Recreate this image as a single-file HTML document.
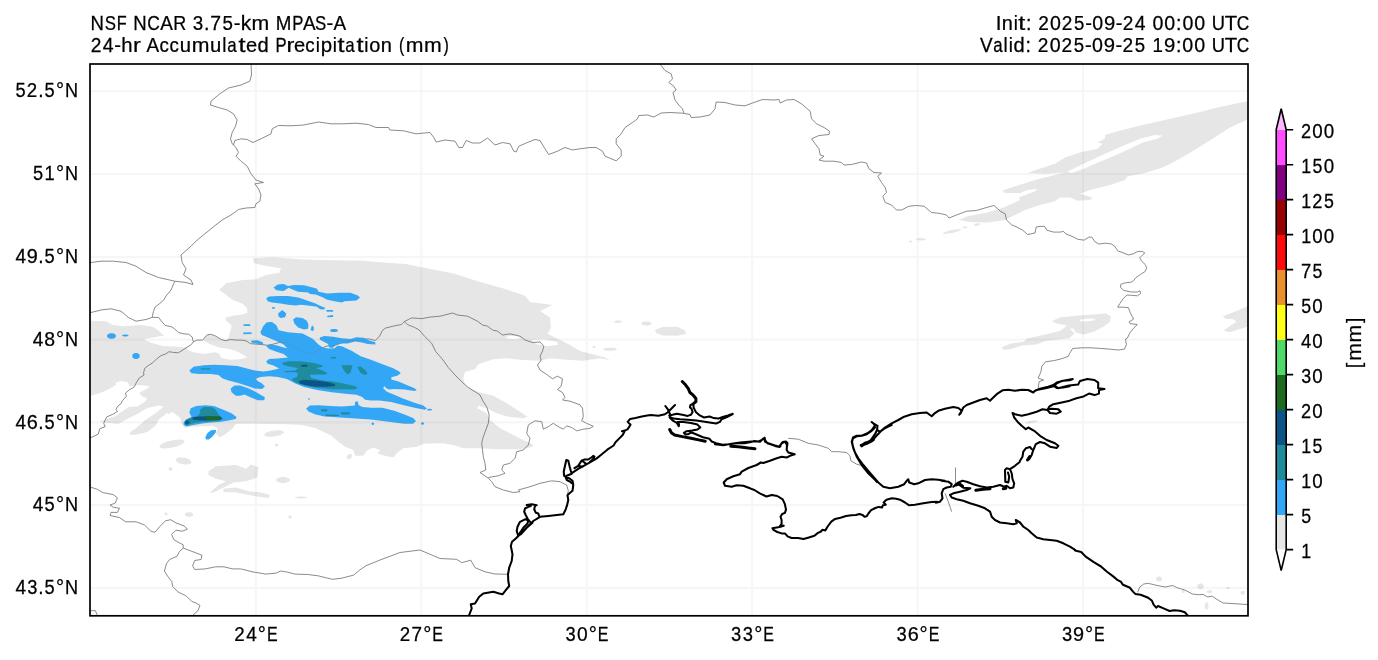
<!DOCTYPE html>
<html><head><meta charset="utf-8"><title>MPAS precipitation</title>
<style>
html,body{margin:0;padding:0;background:#fff;}
body{width:1378px;height:660px;overflow:hidden;}
svg{display:block;will-change:transform;}
text{font-family:"Liberation Sans",sans-serif;font-size:19.87px;fill:#000;stroke:#000;stroke-width:0.25px;}
</style></head><body>
<svg width="1378" height="660" viewBox="0 0 1378 660">
<rect x="0" y="0" width="1378" height="660" fill="#fff"/>
<defs><clipPath id="ax"><rect x="90.0" y="64.0" width="1158.0" height="551.8"/></clipPath></defs>
<g clip-path="url(#ax)">

<path d="M252.7 258.3L272.7 257.3L299.3 259.3L319.3 260.0L362.7 260.7L386.0 262.7L406.0 264.0L419.3 266.7L439.3 270.7L452.7 273.3L479.3 281.7L502.7 288.3L525.0 295.7L530.0 302.0L552.5 305.0L540.0 311.0L550.0 317.5L551.0 327.5L547.5 333.8L560.0 340.0L570.0 345.0L580.0 351.0L605.0 357.5L610.0 360.0L600.0 358.3L583.3 360.8L566.7 359.7L550.0 358.3L540.0 360.8L523.3 360.0L506.7 358.3L493.3 359.2L478.3 364.2L475.0 369.2L465.0 371.7L463.3 378.3L465.0 385.0L471.7 389.2L480.0 392.5L493.3 395.8L506.7 403.3L520.0 411.7L527.5 416.7L523.3 418.3L508.3 416.7L496.7 413.3L486.7 408.3L478.3 405.8L477.5 408.3L486.7 413.3L490.0 420.0L500.0 428.3L513.3 435.0L522.5 439.8L532.5 444.2L532.5 446.7L521.7 449.2L496.7 449.2L480.0 448.3L463.3 448.3L453.3 445.0L443.3 443.3L423.3 443.7L416.7 446.7L403.3 448.3L396.7 453.3L393.3 457.5L385.0 455.8L377.5 453.3L380.0 450.0L373.3 447.5L366.7 450.8L363.3 455.8L355.0 455.8L353.3 450.0L345.0 446.7L338.3 441.7L331.7 435.8L315.7 428.3L302.7 425.0L286.0 424.2L252.7 423.7L236.0 423.7L232.7 428.3L224.3 435.0L219.3 437.5L216.0 433.3L217.7 428.3L212.7 425.8L192.7 426.7L184.3 427.5L181.0 423.3L180.6 418.3L172.7 411.9L167.8 414.4L167.8 412.4L158.9 419.3L155.0 426.2L147.1 432.1L137.2 434.6L130.3 435.1L130.3 432.1L137.2 427.2L145.1 420.3L155.0 413.4L163.8 406.5L158.9 405.5L147.1 408.0L137.2 413.9L127.4 418.8L118.5 423.8L105.7 422.8L99.8 421.8L105.7 419.3L115.6 415.9L123.4 410.5L129.3 406.7L137.2 406.5L145.1 401.6L147.1 398.6L141.2 395.7L139.2 392.7L145.1 389.8L150.0 386.8L145.1 385.6L137.2 384.9L129.3 386.6L129.3 384.9L127.4 381.9L120.5 380.9L115.6 382.7L115.6 385.3L107.7 389.8L100.8 392.7L90.9 395.7L90.7 320.8L106.0 321.3L112.7 325.0L124.3 326.3L141.0 325.0L152.7 326.7L161.0 332.5L158.6 331.4L164.4 335.4L153.9 337.2L144.6 338.9L144.6 340.1L151.6 343.0L163.2 345.9L174.8 346.5L184.1 347.6L188.8 345.9L186.5 348.8L189.9 351.1L195.7 352.8L205.0 354.0L214.3 352.3L219.0 353.4L221.3 358.1L230.6 359.8L239.9 359.2L246.9 357.5L246.9 356.9L238.7 352.3L232.9 349.9L228.3 348.8L219.0 347.6L209.7 344.1L205.0 341.2L203.9 339.5L205.0 336.0L208.5 334.3L214.3 336.0L221.3 339.5L225.9 340.1L228.3 338.3L229.4 333.7L231.8 326.1L229.4 323.2L225.4 320.3L225.9 317.4L232.9 315.7L242.2 314.5L247.4 312.8L246.9 308.1L242.2 303.5L232.9 300.0L219.3 290.0L226.0 283.3L242.7 280.0L256.0 279.3L266.0 275.0L279.3 272.7L281.0 268.3L266.0 266.0L254.3 263.3ZM184.7 441.3L183.8 443.1L180.5 445.1L175.6 446.8L169.9 448.0L164.7 448.4L160.9 448.0L159.3 446.7L160.2 444.9L163.5 442.9L168.4 441.2L174.1 440.0L179.3 439.6L183.1 440.0ZM191.4 462.4L190.3 463.7L188.0 464.4L184.7 464.5L181.2 463.9L178.1 462.7L176.2 461.2L175.6 459.6L176.7 458.3L179.0 457.6L182.3 457.5L185.8 458.1L188.9 459.3L190.8 460.8ZM172.3 469.0L172.1 469.9L171.6 470.6L170.9 470.9L170.1 470.9L169.4 470.6L168.9 469.9L168.7 469.0L168.9 468.1L169.4 467.4L170.1 467.1L170.9 467.1L171.6 467.4L172.1 468.1ZM208.5 471.2L216.0 466.2L236.0 465.0L246.0 468.8L251.0 464.5L258.5 467.5L257.2 477.5L246.0 481.2L233.5 482.5L226.0 486.2L213.5 492.5L209.8 492.5L218.5 485.0L226.0 481.2L216.0 478.8L208.5 475.0ZM223.5 488.8L236.0 487.5L248.5 491.2L261.0 492.5L269.8 495.0L268.5 498.0L256.0 496.2L236.0 492.5L223.5 492.0ZM290.0 480.0L289.3 481.3L287.4 482.3L284.6 482.9L281.4 482.9L278.6 482.3L276.7 481.3L276.0 480.0L276.7 478.7L278.6 477.7L281.4 477.1L284.6 477.1L287.4 477.7L289.3 478.7ZM283.9 432.1L283.1 433.5L280.5 435.0L276.6 436.1L272.2 436.7L268.2 436.7L265.3 436.0L264.1 434.9L264.9 433.5L267.5 432.0L271.4 430.9L275.8 430.3L279.8 430.3L282.7 431.0ZM352.1 455.0L352.3 456.0L352.0 457.1L351.2 458.0L350.0 458.7L348.7 458.9L347.6 458.7L346.9 458.0L346.7 457.0L347.0 455.9L347.8 455.0L349.0 454.3L350.3 454.1L351.4 454.3ZM193.3 514.5L192.9 515.5L191.7 516.3L190.0 516.7L188.0 516.7L186.3 516.3L185.1 515.5L184.7 514.5L185.1 513.5L186.3 512.7L188.0 512.3L190.0 512.3L191.7 512.7L192.9 513.5ZM167.5 514.0L167.4 514.7L166.9 515.2L166.3 515.5L165.7 515.5L165.1 515.2L164.6 514.7L164.5 514.0L164.6 513.3L165.1 512.8L165.7 512.5L166.3 512.5L166.9 512.8L167.4 513.3ZM291.7 517.0L291.5 517.7L291.1 518.3L290.4 518.7L289.6 518.7L288.9 518.3L288.5 517.7L288.3 517.0L288.5 516.3L288.9 515.7L289.6 515.3L290.4 515.3L291.1 515.7L291.5 516.3ZM278.0 445.0L277.9 445.7L277.4 446.2L276.8 446.5L276.2 446.5L275.6 446.2L275.1 445.7L275.0 445.0L275.1 444.3L275.6 443.8L276.2 443.5L276.8 443.5L277.4 443.8L277.9 444.3ZM307.0 497.5L306.4 497.9L304.7 498.3L302.3 498.5L299.7 498.5L297.3 498.3L295.6 497.9L295.0 497.5L295.6 497.1L297.3 496.7L299.7 496.5L302.3 496.5L304.7 496.7L306.4 497.1ZM655.0 330.0L662.5 327.0L677.5 326.8L685.0 330.5L686.2 333.8L677.5 335.8L662.5 335.5L656.2 333.0ZM651.5 323.5L651.0 324.5L649.6 325.2L647.6 325.6L645.4 325.6L643.4 325.2L642.0 324.5L641.5 323.5L642.0 322.5L643.4 321.8L645.4 321.4L647.6 321.4L649.6 321.8L651.0 322.5ZM622.0 321.7L621.6 322.2L620.5 322.6L618.9 322.9L617.1 322.9L615.5 322.6L614.4 322.2L614.0 321.7L614.4 321.2L615.5 320.8L617.1 320.5L618.9 320.5L620.5 320.8L621.6 321.2ZM617.0 349.3L616.3 350.0L614.4 350.5L611.6 350.8L608.4 350.8L605.6 350.5L603.7 350.0L603.0 349.3L603.7 348.6L605.6 348.1L608.4 347.8L611.6 347.8L614.4 348.1L616.3 348.6ZM595.5 347.0L595.4 347.5L594.9 347.9L594.3 348.2L593.7 348.2L593.1 347.9L592.6 347.5L592.5 347.0L592.6 346.5L593.1 346.1L593.7 345.8L594.3 345.8L594.9 346.1L595.4 346.5ZM1248.8 101.2L1248.8 118.8L1230.0 127.5L1212.5 138.8L1192.5 151.2L1177.5 160.0L1162.5 167.5L1142.5 173.8L1127.5 176.2L1125.0 180.0L1110.0 185.0L1090.0 190.0L1080.0 193.8L1092.5 197.5L1090.0 200.0L1077.5 200.8L1070.0 197.5L1060.0 197.5L1055.0 201.2L1040.0 205.0L1025.0 210.0L1012.5 216.2L1005.0 220.0L987.5 222.5L970.0 222.0L958.8 220.0L967.5 216.2L987.5 212.5L1005.0 207.0L1020.0 200.0L1018.8 197.5L1035.0 191.2L1037.5 188.8L1027.5 190.0L1020.0 193.0L1005.0 193.0L1002.5 190.5L1015.0 186.2L1035.0 180.0L1055.0 175.0L1065.0 172.5L1045.0 173.8L1027.5 173.0L1037.5 169.5L1055.0 163.8L1065.0 157.5L1080.0 152.5L1097.5 148.8L1102.5 143.8L1097.5 142.5L1105.0 138.8L1105.0 135.0L1117.5 131.2L1142.5 125.0L1165.0 120.0L1192.5 113.8L1217.5 107.5L1235.0 103.8ZM961.3 229.5L960.5 230.3L958.0 231.3L954.4 232.4L950.2 233.3L946.4 233.8L943.8 233.9L942.7 233.5L943.5 232.7L946.0 231.7L949.6 230.6L953.8 229.7L957.6 229.2L960.2 229.1ZM926.0 239.3L925.5 239.8L924.1 240.2L922.1 240.5L919.9 240.5L917.9 240.2L916.5 239.8L916.0 239.3L916.5 238.8L917.9 238.4L919.9 238.1L922.1 238.1L924.1 238.4L925.5 238.8ZM912.3 241.5L912.1 241.9L911.6 242.3L910.9 242.5L910.1 242.5L909.4 242.3L908.9 241.9L908.7 241.5L908.9 241.1L909.4 240.7L910.1 240.5L910.9 240.5L911.6 240.7L912.1 241.1ZM967.5 227.3L967.3 227.7L966.6 228.0L965.6 228.2L964.4 228.2L963.4 228.0L962.7 227.7L962.5 227.3L962.7 226.9L963.4 226.6L964.4 226.4L965.6 226.4L966.6 226.6L967.3 226.9ZM980.1 223.8L979.9 224.4L979.1 224.9L977.9 225.4L976.5 225.7L975.2 225.8L974.3 225.6L973.9 225.2L974.1 224.6L974.9 224.1L976.1 223.6L977.5 223.3L978.8 223.2L979.7 223.4ZM1001.8 347.3L1010.9 343.6L1023.6 341.8L1027.3 338.2L1036.4 336.4L1045.5 334.5L1060.0 330.9L1067.3 325.5L1056.4 323.6L1051.8 320.9L1060.0 317.6L1078.2 315.5L1094.5 314.5L1105.5 313.3L1110.9 316.4L1110.0 321.8L1103.6 326.4L1094.5 331.5L1083.6 334.5L1076.4 332.7L1072.7 328.2L1070.0 329.1L1074.5 333.6L1069.1 338.2L1054.5 340.0L1045.5 340.9L1036.4 344.5L1021.8 345.5L1010.9 349.1L1003.6 350.0ZM1222.7 316.4L1234.5 311.8L1248.2 306.0L1248.2 326.4L1240.0 329.1L1229.1 332.2L1223.6 330.4L1229.1 326.4L1236.4 321.8L1232.7 319.1L1225.5 318.7ZM1162.0 579.0L1161.7 580.2L1160.9 581.1L1159.7 581.6L1158.3 581.6L1157.1 581.1L1156.3 580.2L1156.0 579.0L1156.3 577.8L1157.1 576.9L1158.3 576.4L1159.7 576.4L1160.9 576.9L1161.7 577.8ZM1203.9 586.3L1203.6 587.6L1202.6 588.6L1201.3 589.2L1199.7 589.2L1198.4 588.6L1197.4 587.6L1197.1 586.3L1197.4 585.0L1198.4 584.0L1199.7 583.4L1201.3 583.4L1202.6 584.0L1203.6 585.0ZM1212.2 591.6L1211.9 592.3L1211.2 592.8L1210.1 593.1L1208.9 593.1L1207.8 592.8L1207.1 592.3L1206.8 591.6L1207.1 590.9L1207.8 590.4L1208.9 590.1L1210.1 590.1L1211.2 590.4L1211.9 590.9ZM1208.5 606.0L1208.3 607.6L1207.8 609.0L1207.0 609.7L1206.2 609.7L1205.4 609.0L1204.9 607.6L1204.7 606.0L1204.9 604.4L1205.4 603.0L1206.2 602.3L1207.0 602.3L1207.8 603.0L1208.3 604.4ZM1244.7 591.6L1244.9 592.5L1244.7 593.4L1244.1 594.1L1243.2 594.7L1242.2 594.8L1241.3 594.6L1240.7 593.9L1240.5 593.1L1240.7 592.2L1241.3 591.5L1242.2 590.9L1243.2 590.8L1244.1 591.0ZM1184.8 591.3L1184.7 592.1L1184.2 592.8L1183.6 593.2L1183.0 593.2L1182.4 592.8L1181.9 592.1L1181.8 591.3L1181.9 590.5L1182.4 589.8L1183.0 589.4L1183.6 589.4L1184.2 589.8L1184.7 590.5ZM1229.8 588.2L1229.6 588.7L1229.1 589.1L1228.3 589.3L1227.5 589.3L1226.7 589.1L1226.2 588.7L1226.0 588.2L1226.2 587.7L1226.7 587.3L1227.5 587.1L1228.3 587.1L1229.1 587.3L1229.6 587.7ZM1037.9 420.9L1037.4 421.5L1035.7 422.2L1033.1 422.9L1030.3 423.4L1027.7 423.6L1025.8 423.5L1025.1 423.1L1025.6 422.5L1027.3 421.8L1029.9 421.1L1032.7 420.6L1035.3 420.4L1037.2 420.5Z" fill="#e6e6e6" stroke="none"/>
<path d="M520.0 337.5L519.3 338.2L517.4 338.8L514.6 339.1L511.4 339.1L508.6 338.8L506.7 338.2L506.0 337.5L506.7 336.8L508.6 336.2L511.4 335.9L514.6 335.9L517.4 336.2L519.3 336.8ZM531.7 340.3L543.3 339.2L556.7 341.7L558.3 344.7L546.7 346.2L536.7 344.2ZM1067.0 171.8L1085.0 163.0L1105.0 153.8L1125.0 145.0L1140.0 138.8L1155.0 135.0L1162.5 135.5L1157.5 138.8L1142.5 142.5L1130.0 148.8L1115.0 155.5L1097.5 162.8L1085.0 168.2L1072.0 173.0ZM1095.3 319.6L1094.5 320.2L1092.3 320.8L1089.1 321.3L1085.6 321.5L1082.4 321.4L1080.1 321.0L1079.3 320.4L1080.1 319.8L1082.3 319.2L1085.5 318.7L1089.0 318.5L1092.2 318.6L1094.5 319.0Z" fill="#fff" stroke="none"/>
<path d="M251.0 62.5L251.5 75.0L249.8 81.2L241.0 85.0L228.5 88.0L219.8 93.8L211.0 101.2L210.5 105.0L218.5 107.5L227.2 110.0L233.5 113.8L237.2 120.0L235.5 126.2L232.2 132.5L230.5 138.8L232.2 143.8L236.0 147.5L238.5 152.5L236.0 156.2L241.0 161.2L247.2 166.2L251.0 173.8L256.0 180.0L263.5 182.5L254.8 183.8L258.5 188.8L261.0 195.0L259.8 201.2L256.0 203.8L254.8 207.5L246.0 208.0L238.5 209.5L231.0 215.0L222.2 220.0L216.0 224.8L197.2 240.0L191.0 246.2L181.0 255.0L182.2 262.5L186.0 268.8L183.5 275.0L191.0 280.0L193.0 284.5L186.0 282.5L174.8 281.2M233.5 145.0L234.8 140.5L241.0 138.8L247.2 139.5L253.0 142.5L261.0 138.8L271.0 133.8L272.2 128.8L278.5 125.5L291.0 125.8L303.5 125.0L318.5 122.0L331.0 123.8L343.5 123.8L356.0 123.2L368.5 124.5L376.0 127.5L388.5 127.5L389.8 130.0L403.5 130.8L416.0 133.8L430.0 132.5L430.0 132.5L433.8 137.5L436.2 142.0L445.0 140.0L455.0 141.2L458.8 147.5L462.5 147.5L466.2 140.5L472.5 143.0L480.0 143.0L487.5 138.0L495.0 145.0L502.5 142.5L510.0 143.8L513.8 151.2L516.2 152.0L518.8 146.2L526.2 143.0L535.0 139.5L540.0 140.5L545.0 148.8L548.8 154.5L557.5 151.2L565.0 147.5L572.5 150.0L580.0 148.8L590.0 147.5L596.2 147.5L602.5 151.2L605.0 156.2L616.2 160.8L621.2 156.2L621.2 150.0L616.2 143.8L616.2 138.8L621.2 133.8L625.0 127.5L632.5 122.5L637.5 118.8L638.8 115.5L647.5 115.0L653.8 117.0L661.2 113.0L670.0 112.5L682.5 113.2L690.0 114.5L691.2 117.5L700.0 117.0L710.0 115.0L715.0 108.8L716.2 102.0L725.0 102.5L735.0 105.0L745.0 105.8L752.5 103.0L762.5 99.5L774.0 100.0L774.0 100.0L779.0 99.5L780.2 103.0L786.5 100.0L794.0 99.5L801.5 103.8L810.2 111.2L811.5 118.8L816.5 123.8L824.0 127.5L829.5 131.2L829.0 134.5L819.0 135.5L811.5 138.8L815.2 143.8L819.0 148.8L820.2 155.0L824.0 156.2L819.0 160.0L824.0 161.2L834.0 161.2L841.5 162.5L844.0 165.0L851.5 164.5L861.5 162.0L866.5 163.0L869.0 168.8L874.0 172.5L881.5 173.0L877.8 176.2L881.5 182.5L885.2 187.5L886.5 192.5L882.8 196.2L885.2 202.5L891.5 205.0L896.5 210.0L901.5 210.0L909.0 206.2L916.5 205.5L924.0 206.2L931.5 212.5L936.5 213.0L941.5 213.8L946.5 215.0L949.0 218.0L956.5 215.0L966.5 211.2L976.5 210.5L986.5 207.5L994.0 205.5L997.8 208.8L1000.2 211.2L1005.2 213.8L1006.5 220.0L1011.5 224.8L1015.0 226.2L1022.5 230.0L1027.5 234.5L1035.0 233.0L1036.2 227.0L1040.0 226.5M1040.0 226.4L1044.6 226.4L1046.9 230.2L1053.7 232.1L1059.8 232.1L1063.6 231.5L1065.9 234.0L1072.0 236.3L1078.1 239.4L1084.2 240.1L1088.8 237.1L1091.8 237.1L1094.9 241.7L1098.7 244.0L1105.5 243.2L1111.6 244.0L1114.7 246.2L1117.7 250.8L1123.8 253.1L1128.4 254.9L1133.0 253.9L1137.5 251.6L1142.1 251.3L1144.8 253.1L1142.1 255.4L1139.8 257.7L1141.3 260.7L1145.2 264.5L1146.7 267.6L1145.2 271.4L1140.6 274.4L1136.0 277.5L1133.7 280.5L1131.4 282.1L1125.3 282.8L1120.8 284.3L1120.5 287.4L1123.8 290.4L1131.4 292.0L1137.5 292.0L1139.8 290.7L1140.6 293.5L1137.5 295.8L1131.4 295.3L1126.9 295.0L1123.1 298.8L1120.0 303.4L1117.7 307.2L1123.8 307.2L1128.4 307.7L1129.9 311.8L1131.4 315.0L1133.6 319.1L1129.1 321.8L1130.0 323.6L1137.3 324.5L1133.6 328.2L1130.0 332.7L1127.3 338.2L1125.5 339.1L1126.4 344.5L1124.5 349.1L1118.2 350.0L1109.1 349.1L1101.8 348.5L1090.9 347.8L1081.8 347.8L1072.7 348.5L1070.0 352.7L1068.2 356.4L1061.8 358.7L1054.5 360.5L1045.5 361.8L1041.8 366.4L1040.9 371.8L1038.2 378.2L1043.6 380.0L1039.1 381.8L1038.2 388.2M658.8 62.5L665.0 70.5L671.2 73.8L672.5 78.8L668.8 82.5L673.8 86.2L676.2 90.0L673.0 92.5L675.0 100.0L678.8 105.0L682.5 108.8L683.8 113.0M88.0 263.0L91.0 262.5L101.0 261.2L113.5 261.2L126.0 262.5L136.0 266.2L146.0 272.5L158.5 277.5L174.8 281.2M174.8 281.2L171.0 290.0L166.0 296.0L163.8 300.0L159.7 303.5L155.1 307.0L153.4 311.6L152.2 317.4M88.0 313.0L91.0 312.5L101.0 310.0L111.0 308.8L121.0 311.2L128.5 317.5L136.0 321.2L146.0 319.5L152.2 317.4M152.2 317.4L158.6 317.4L162.1 322.1L165.6 325.6L171.4 326.7L174.8 329.0L178.3 332.5L183.0 333.7L188.8 334.3L192.3 337.2L192.8 340.1L193.4 341.8M193.4 341.8L196.9 340.1L202.7 340.1L205.0 337.2L207.4 334.8L210.8 334.3L215.5 336.0L221.3 339.5L225.9 340.7L230.6 339.5L236.4 340.1L242.2 340.1L246.9 341.2L250.3 343.6L256.1 344.1L263.1 344.7L267.8 345.3L273.6 344.1L279.4 342.4L286.0 342.5L293.5 346.2L303.5 352.5L311.0 353.8L318.5 350.0L326.0 346.2L336.0 345.0L346.0 341.2L358.5 340.0L368.5 338.8L375.3 340.5L379.6 336.1L382.5 330.3L385.5 328.1L394.2 325.9L401.5 324.5L404.4 321.5L408.7 319.4L411.6 317.9L421.8 318.6L429.1 317.2L440.0 316.2L452.5 313.0L457.5 315.0L467.5 316.2L477.5 321.2L482.5 325.0L487.5 326.2L492.5 330.0L497.5 331.2L502.5 335.0L510.0 333.8L520.0 336.2L525.0 340.0L532.5 342.5L540.0 342.0L543.8 346.2L542.5 351.2L540.0 356.2L541.2 360.0L537.5 365.0L540.0 370.0L547.5 375.0L552.5 378.8L557.5 376.2L562.5 378.8L561.2 386.2L557.5 389.5L562.5 392.5L565.0 397.5L562.5 400.0L570.0 401.2L580.0 404.8L582.5 408.3L583.3 416.7L581.7 420.8L586.7 423.3L593.3 426.3L590.0 428.3L583.3 429.2L576.7 430.8L571.7 427.5L566.7 425.8L563.3 429.2L558.3 426.7L553.3 423.3L548.3 426.7L543.3 429.2L541.7 421.7L535.0 420.8L528.3 425.0L526.7 433.3L530.0 438.3L528.3 445.0L523.3 450.0L516.7 451.7L515.0 458.3L510.0 463.3L503.3 465.0L501.7 470.0L505.0 473.3L498.3 475.8L488.3 477.5M193.4 341.8L191.1 344.7L186.5 347.6L183.0 349.9L178.3 352.8L172.5 352.3L169.0 351.7L165.6 354.0L160.9 355.7L156.3 359.2L152.8 362.7L148.1 365.6L144.6 368.5L143.5 373.2L144.1 375.0L139.2 378.0L136.2 382.9L134.3 386.8L129.3 389.8L125.4 393.2L126.4 396.2L122.5 400.6L121.0 403.6L117.5 406.5L116.0 409.5L117.5 411.5L112.6 414.4L106.7 416.9L103.7 423.3L105.2 426.7L99.8 428.7L98.3 434.1L88.0 439.0M404.4 321.5L407.3 324.5L414.5 327.4L419.2 330.0L425.0 336.7L431.7 343.3L435.8 351.7L441.7 358.3L448.3 367.5L455.0 375.0L461.7 381.7L468.3 387.5L475.0 391.7L480.0 395.0L483.3 401.7L486.7 406.7L489.2 415.0L488.3 423.3L485.8 430.0L483.3 436.7L481.7 443.3L482.5 450.0L483.3 456.7L485.0 463.3L485.8 470.0L480.0 472.5L485.0 475.8L488.3 478.3L491.7 481.7L495.0 486.7L503.3 490.0L513.3 492.5L520.0 491.7L518.3 490.0L530.0 486.7L540.0 483.3L551.7 480.8L560.0 481.7L566.7 485.0L568.3 490.8L567.5 494.2M87.0 485.9L91.2 487.3L97.5 489.4L102.7 492.5L113.2 494.6L117.4 497.8L115.3 503.0L110.0 505.1L113.2 507.2L119.5 508.2L117.4 512.4L111.1 512.4L110.0 515.5L119.5 517.6L125.7 521.8L136.2 521.8L144.6 525.0L150.8 531.2L155.0 532.3L159.2 527.1L165.5 520.8L170.7 519.7L175.9 522.9L184.3 526.0L187.4 529.1L182.2 531.2L175.9 530.2L171.7 534.4L173.8 539.6L179.1 542.7L183.2 544.8L183.2 548.0L188.5 550.1L196.8 553.2L202.1 555.3L201.0 559.5L194.7 560.5L192.6 565.7L194.7 569.5L205.2 568.9L215.7 566.8L224.0 566.8L232.4 568.9L240.7 568.9L253.3 572.0L265.8 574.1L276.3 573.1L280.5 571.0L286.8 572.0L295.1 574.1L307.7 574.5L318.1 575.8L326.5 577.9L332.8 579.3L341.1 578.3L353.7 575.1L359.9 569.9L366.0 565.7L380.0 560.0L400.0 552.5L420.0 550.0L440.0 558.5L456.7 559.3L461.7 562.7L470.8 560.2L475.0 567.7L485.0 571.8L495.0 574.0L507.5 574.3M183.2 548.0L179.1 552.1L177.0 556.3L169.6 559.5L166.5 563.6L164.4 571.0L167.6 576.2L171.7 581.4L172.8 586.6L178.0 591.9L186.4 596.1L191.6 601.3L196.8 603.4L200.0 605.5L197.9 610.7L192.6 615.5M87.0 610.7L95.4 610.7L97.5 615.5M788.3 438.3L798.3 439.2L808.3 443.3L818.3 445.0L828.3 448.3L831.7 451.7L838.3 451.7L846.7 452.5L850.0 455.8L850.8 460.8L856.7 464.2L860.8 465.3M955.5 467.5L955.5 483.3M945.0 493.3L948.3 501.7L951.7 511.7M1137.6 592.4L1139.8 587.0L1143.7 584.0L1148.2 583.3L1155.9 585.2L1165.0 587.0L1172.6 585.5L1177.2 587.8L1184.8 590.0L1192.4 594.0L1198.5 594.7L1203.0 594.4L1207.7 597.0L1212.3 596.2L1216.8 599.3L1223.0 603.0L1232.0 603.5L1248.0 604.6" fill="none" stroke="#6a6a6a" stroke-width="0.78" stroke-linejoin="round"/>
<defs><clipPath id="bl"><path d="M273.5 287.4L277.8 284.5L283.6 284.0L288.0 285.9L293.8 284.9L304.0 285.2L312.7 287.4L317.1 288.8L318.5 291.7L327.3 293.6L338.9 292.7L350.5 292.7L357.8 295.4L360.0 297.5L356.4 300.5L344.7 301.2L341.8 302.6L334.5 301.2L327.3 299.7L321.5 296.8L315.6 294.6L309.8 293.9L308.4 292.5L298.2 291.7L292.4 289.5L288.7 287.8L283.6 291.0L276.4 290.3ZM266.2 298.3L269.1 296.5L277.8 296.1L288.0 296.1L298.2 297.5L306.9 300.5L315.6 303.4L319.3 305.5L325.1 307.7L324.4 309.6L320.0 309.2L317.1 306.7L309.8 305.8L301.1 304.8L295.3 305.5L288.0 304.8L280.7 303.4L272.0 302.6L267.6 301.2ZM326.5 309.9L333.1 309.9L333.1 311.7L326.5 311.7ZM327.3 315.7L333.1 315.0L333.1 316.9L327.3 317.2ZM272.0 307.0L274.9 307.3L274.9 308.7L272.3 308.7ZM278.1 313.5L282.2 309.9L286.3 313.5L285.1 317.2L280.7 317.9L278.5 316.5ZM293.1 319.4L296.0 317.2L302.5 317.9L306.9 320.8L308.4 324.5L308.1 328.8L304.0 329.5L298.2 327.4L294.5 323.7ZM310.5 330.3L312.0 325.2L313.9 327.4L313.5 331.0ZM338.0 330.5L337.6 331.2L336.5 331.7L334.9 332.0L333.1 332.0L331.5 331.7L330.4 331.2L330.0 330.5L330.4 329.8L331.5 329.3L333.1 329.0L334.9 329.0L336.5 329.3L337.6 329.8ZM319.7 337.5L324.4 336.1L333.1 336.8L341.8 338.3L350.5 339.0L356.4 337.3L363.6 337.8L369.5 340.5L375.3 342.2L375.3 344.5L368.0 344.1L360.7 342.2L354.9 341.6L347.6 343.4L340.4 343.4L336.0 344.8L333.1 347.7L329.5 347.7L328.0 344.1L322.9 341.2L320.0 339.7ZM243.6 324.2L250.2 324.2L250.2 325.9L243.6 325.9ZM242.9 332.5L251.6 332.2L251.6 334.1L243.6 334.3ZM250.9 340.7L257.5 340.2L263.3 342.6L262.5 344.5L256.0 343.4L251.6 342.6ZM263.3 325.9L266.9 322.3L272.0 321.9L276.4 325.2L278.5 330.3L288.0 332.2L302.5 333.6L312.7 338.7L318.5 344.5L322.9 347.5L328.7 348.6L334.5 348.2L337.5 345.7L341.8 346.3L352.0 351.1L360.7 356.2L370.9 359.8L382.5 364.2L392.7 368.1L399.3 371.5L400.7 373.6L397.1 375.8L391.3 377.3L391.3 379.5L398.5 381.6L407.3 385.3L414.5 388.2L416.7 389.9L414.5 391.1L404.4 389.6L394.2 388.9L388.4 389.6L385.5 387.5L384.0 386.0L383.3 388.2L386.9 391.8L394.2 394.7L402.9 398.4L414.5 402.7L423.3 405.6L426.9 408.5L424.7 409.7L414.5 407.8L402.9 404.9L391.3 402.0L379.6 400.5L370.9 400.5L365.1 399.8L362.2 396.9L356.4 394.7L347.6 394.0L331.8 392.2L317.3 390.0L304.2 387.1L295.5 383.5L286.7 379.1L278.0 376.9L269.3 376.2L260.5 376.9L256.2 378.4L256.9 380.5L262.0 383.5L264.9 386.4L262.0 389.0L254.7 388.5L246.0 385.6L237.3 382.7L228.5 380.5L222.7 378.4L218.4 375.0L211.1 374.0L199.5 374.0L191.5 373.3L189.3 370.4L193.6 366.7L203.8 365.3L214.0 364.8L225.6 365.3L237.3 366.0L246.0 368.2L254.7 370.4L263.5 371.5L270.7 370.4L279.3 368.5L273.5 365.6L267.6 363.7L266.2 361.3L269.1 359.1L277.8 358.4L288.0 357.6L283.6 354.0L276.4 351.8L269.1 348.9L266.2 346.0L269.1 344.5L276.4 345.3L283.6 347.5L287.3 348.2L283.6 344.5L276.4 340.9L269.1 338.0L261.8 335.1L260.4 332.2ZM306.2 408.5L309.8 405.6L318.5 405.3L330.2 405.9L341.8 406.4L354.9 405.6L354.9 402.0L357.8 401.3L358.5 404.9L362.2 407.1L370.9 407.8L382.5 407.8L394.2 410.7L404.4 414.4L413.1 418.0L416.0 420.9L413.1 423.8L404.4 423.8L394.2 422.4L382.5 420.9L370.9 419.5L359.3 418.7L347.6 418.0L336.0 417.3L324.4 416.5L315.6 414.4L308.4 411.5ZM230.7 388.5L234.4 385.6L240.2 385.6L248.9 388.5L257.6 392.9L264.9 397.3L264.2 400.2L257.6 400.2L250.4 397.3L244.5 394.4L240.2 395.8L235.8 395.8L231.5 392.2ZM183.5 422.7L185.6 419.8L191.5 416.9L189.3 412.5L190.7 408.2L196.5 406.0L205.3 405.3L214.0 406.0L222.7 409.6L231.5 413.3L236.5 416.9L235.8 419.1L228.5 420.5L219.8 422.0L211.1 422.4L202.4 423.5L193.6 424.9L186.4 426.4L183.7 424.9ZM205.3 437.3L207.5 432.9L211.1 430.3L216.2 430.0L215.5 432.9L212.5 436.5L208.9 439.5L206.0 439.5ZM116.0 336.0L115.6 337.2L114.3 338.2L112.5 338.7L110.5 338.7L108.7 338.2L107.4 337.2L107.0 336.0L107.4 334.8L108.7 333.8L110.5 333.3L112.5 333.3L114.3 333.8L115.6 334.8ZM128.5 335.5L128.2 335.9L127.3 336.3L126.0 336.5L124.6 336.5L123.3 336.3L122.4 335.9L122.1 335.5L122.4 335.1L123.3 334.7L124.6 334.5L126.0 334.5L127.3 334.7L128.2 335.1ZM139.8 356.0L139.4 357.4L138.4 358.5L136.8 359.1L135.2 359.1L133.6 358.5L132.6 357.4L132.2 356.0L132.6 354.6L133.6 353.5L135.2 352.9L136.8 352.9L138.4 353.5L139.4 354.6ZM432.1 409.7L431.8 410.1L431.1 410.4L430.1 410.6L428.9 410.6L427.9 410.4L427.2 410.1L426.9 409.7L427.2 409.3L427.9 409.0L428.9 408.8L430.1 408.8L431.1 409.0L431.8 409.3ZM374.1 423.8L374.0 424.4L373.6 424.8L373.1 425.1L372.5 425.1L372.0 424.8L371.6 424.4L371.5 423.8L371.6 423.2L372.0 422.8L372.5 422.5L373.1 422.5L373.6 422.8L374.0 423.2ZM424.0 423.5L423.9 424.1L423.4 424.5L422.8 424.8L422.2 424.8L421.6 424.5L421.1 424.1L421.0 423.5L421.1 422.9L421.6 422.5L422.2 422.2L422.8 422.2L423.4 422.5L423.9 422.9ZM310.0 399.0L309.9 399.3L309.6 399.6L309.2 399.8L308.8 399.8L308.4 399.6L308.1 399.3L308.0 399.0L308.1 398.7L308.4 398.4L308.8 398.2L309.2 398.2L309.6 398.4L309.9 398.7ZM336.0 330.6L335.8 331.0L335.1 331.3L334.1 331.5L332.9 331.5L331.9 331.3L331.2 331.0L331.0 330.6L331.2 330.2L331.9 329.9L332.9 329.7L334.1 329.7L335.1 329.9L335.8 330.2Z"/></clipPath></defs>
<path d="M273.5 287.4L277.8 284.5L283.6 284.0L288.0 285.9L293.8 284.9L304.0 285.2L312.7 287.4L317.1 288.8L318.5 291.7L327.3 293.6L338.9 292.7L350.5 292.7L357.8 295.4L360.0 297.5L356.4 300.5L344.7 301.2L341.8 302.6L334.5 301.2L327.3 299.7L321.5 296.8L315.6 294.6L309.8 293.9L308.4 292.5L298.2 291.7L292.4 289.5L288.7 287.8L283.6 291.0L276.4 290.3ZM266.2 298.3L269.1 296.5L277.8 296.1L288.0 296.1L298.2 297.5L306.9 300.5L315.6 303.4L319.3 305.5L325.1 307.7L324.4 309.6L320.0 309.2L317.1 306.7L309.8 305.8L301.1 304.8L295.3 305.5L288.0 304.8L280.7 303.4L272.0 302.6L267.6 301.2ZM326.5 309.9L333.1 309.9L333.1 311.7L326.5 311.7ZM327.3 315.7L333.1 315.0L333.1 316.9L327.3 317.2ZM272.0 307.0L274.9 307.3L274.9 308.7L272.3 308.7ZM278.1 313.5L282.2 309.9L286.3 313.5L285.1 317.2L280.7 317.9L278.5 316.5ZM293.1 319.4L296.0 317.2L302.5 317.9L306.9 320.8L308.4 324.5L308.1 328.8L304.0 329.5L298.2 327.4L294.5 323.7ZM310.5 330.3L312.0 325.2L313.9 327.4L313.5 331.0ZM338.0 330.5L337.6 331.2L336.5 331.7L334.9 332.0L333.1 332.0L331.5 331.7L330.4 331.2L330.0 330.5L330.4 329.8L331.5 329.3L333.1 329.0L334.9 329.0L336.5 329.3L337.6 329.8ZM319.7 337.5L324.4 336.1L333.1 336.8L341.8 338.3L350.5 339.0L356.4 337.3L363.6 337.8L369.5 340.5L375.3 342.2L375.3 344.5L368.0 344.1L360.7 342.2L354.9 341.6L347.6 343.4L340.4 343.4L336.0 344.8L333.1 347.7L329.5 347.7L328.0 344.1L322.9 341.2L320.0 339.7ZM243.6 324.2L250.2 324.2L250.2 325.9L243.6 325.9ZM242.9 332.5L251.6 332.2L251.6 334.1L243.6 334.3ZM250.9 340.7L257.5 340.2L263.3 342.6L262.5 344.5L256.0 343.4L251.6 342.6ZM263.3 325.9L266.9 322.3L272.0 321.9L276.4 325.2L278.5 330.3L288.0 332.2L302.5 333.6L312.7 338.7L318.5 344.5L322.9 347.5L328.7 348.6L334.5 348.2L337.5 345.7L341.8 346.3L352.0 351.1L360.7 356.2L370.9 359.8L382.5 364.2L392.7 368.1L399.3 371.5L400.7 373.6L397.1 375.8L391.3 377.3L391.3 379.5L398.5 381.6L407.3 385.3L414.5 388.2L416.7 389.9L414.5 391.1L404.4 389.6L394.2 388.9L388.4 389.6L385.5 387.5L384.0 386.0L383.3 388.2L386.9 391.8L394.2 394.7L402.9 398.4L414.5 402.7L423.3 405.6L426.9 408.5L424.7 409.7L414.5 407.8L402.9 404.9L391.3 402.0L379.6 400.5L370.9 400.5L365.1 399.8L362.2 396.9L356.4 394.7L347.6 394.0L331.8 392.2L317.3 390.0L304.2 387.1L295.5 383.5L286.7 379.1L278.0 376.9L269.3 376.2L260.5 376.9L256.2 378.4L256.9 380.5L262.0 383.5L264.9 386.4L262.0 389.0L254.7 388.5L246.0 385.6L237.3 382.7L228.5 380.5L222.7 378.4L218.4 375.0L211.1 374.0L199.5 374.0L191.5 373.3L189.3 370.4L193.6 366.7L203.8 365.3L214.0 364.8L225.6 365.3L237.3 366.0L246.0 368.2L254.7 370.4L263.5 371.5L270.7 370.4L279.3 368.5L273.5 365.6L267.6 363.7L266.2 361.3L269.1 359.1L277.8 358.4L288.0 357.6L283.6 354.0L276.4 351.8L269.1 348.9L266.2 346.0L269.1 344.5L276.4 345.3L283.6 347.5L287.3 348.2L283.6 344.5L276.4 340.9L269.1 338.0L261.8 335.1L260.4 332.2ZM306.2 408.5L309.8 405.6L318.5 405.3L330.2 405.9L341.8 406.4L354.9 405.6L354.9 402.0L357.8 401.3L358.5 404.9L362.2 407.1L370.9 407.8L382.5 407.8L394.2 410.7L404.4 414.4L413.1 418.0L416.0 420.9L413.1 423.8L404.4 423.8L394.2 422.4L382.5 420.9L370.9 419.5L359.3 418.7L347.6 418.0L336.0 417.3L324.4 416.5L315.6 414.4L308.4 411.5ZM230.7 388.5L234.4 385.6L240.2 385.6L248.9 388.5L257.6 392.9L264.9 397.3L264.2 400.2L257.6 400.2L250.4 397.3L244.5 394.4L240.2 395.8L235.8 395.8L231.5 392.2ZM183.5 422.7L185.6 419.8L191.5 416.9L189.3 412.5L190.7 408.2L196.5 406.0L205.3 405.3L214.0 406.0L222.7 409.6L231.5 413.3L236.5 416.9L235.8 419.1L228.5 420.5L219.8 422.0L211.1 422.4L202.4 423.5L193.6 424.9L186.4 426.4L183.7 424.9ZM205.3 437.3L207.5 432.9L211.1 430.3L216.2 430.0L215.5 432.9L212.5 436.5L208.9 439.5L206.0 439.5ZM116.0 336.0L115.6 337.2L114.3 338.2L112.5 338.7L110.5 338.7L108.7 338.2L107.4 337.2L107.0 336.0L107.4 334.8L108.7 333.8L110.5 333.3L112.5 333.3L114.3 333.8L115.6 334.8ZM128.5 335.5L128.2 335.9L127.3 336.3L126.0 336.5L124.6 336.5L123.3 336.3L122.4 335.9L122.1 335.5L122.4 335.1L123.3 334.7L124.6 334.5L126.0 334.5L127.3 334.7L128.2 335.1ZM139.8 356.0L139.4 357.4L138.4 358.5L136.8 359.1L135.2 359.1L133.6 358.5L132.6 357.4L132.2 356.0L132.6 354.6L133.6 353.5L135.2 352.9L136.8 352.9L138.4 353.5L139.4 354.6ZM432.1 409.7L431.8 410.1L431.1 410.4L430.1 410.6L428.9 410.6L427.9 410.4L427.2 410.1L426.9 409.7L427.2 409.3L427.9 409.0L428.9 408.8L430.1 408.8L431.1 409.0L431.8 409.3ZM374.1 423.8L374.0 424.4L373.6 424.8L373.1 425.1L372.5 425.1L372.0 424.8L371.6 424.4L371.5 423.8L371.6 423.2L372.0 422.8L372.5 422.5L373.1 422.5L373.6 422.8L374.0 423.2ZM424.0 423.5L423.9 424.1L423.4 424.5L422.8 424.8L422.2 424.8L421.6 424.5L421.1 424.1L421.0 423.5L421.1 422.9L421.6 422.5L422.2 422.2L422.8 422.2L423.4 422.5L423.9 422.9ZM310.0 399.0L309.9 399.3L309.6 399.6L309.2 399.8L308.8 399.8L308.4 399.6L308.1 399.3L308.0 399.0L308.1 398.7L308.4 398.4L308.8 398.2L309.2 398.2L309.6 398.4L309.9 398.7ZM336.0 330.6L335.8 331.0L335.1 331.3L334.1 331.5L332.9 331.5L331.9 331.3L331.2 331.0L331.0 330.6L331.2 330.2L331.9 329.9L332.9 329.7L334.1 329.7L335.1 329.9L335.8 330.2Z" fill="#33a7f5" stroke="none"/>
<path d="M282.2 362.7L289.5 361.3L301.1 361.3L312.7 362.7L321.5 364.9L322.9 367.1L315.6 368.1L321.5 370.0L327.3 372.9L325.8 374.4L315.6 374.4L309.8 375.1L311.3 378.0L321.5 380.2L333.1 381.6L344.7 383.8L354.9 386.0L357.8 388.2L353.5 389.6L341.8 389.3L333.1 389.6L321.5 388.2L309.8 386.7L301.1 384.5L293.8 381.6L291.6 378.7L296.7 377.3L298.2 373.6L295.3 372.2L285.1 372.2L283.6 371.2L295.3 370.4L298.2 368.1L289.5 366.4L283.6 364.9ZM341.1 365.6L347.6 364.9L352.7 365.6L350.5 372.2L347.6 374.4L344.7 371.5ZM357.1 367.1L360.7 366.4L365.1 370.0L367.7 373.6L365.1 375.1L360.7 372.9ZM320.7 409.3L327.3 409.3L327.3 411.5L321.5 411.5ZM340.4 412.2L350.5 412.2L349.1 414.4L341.8 414.4ZM325.1 414.4L338.9 414.7L338.9 416.1L325.8 416.1ZM330.9 356.9L336.0 356.9L336.0 358.4L330.9 358.4ZM200.9 368.2L210.4 368.2L210.4 369.6L200.9 369.6ZM184.2 422.7L186.4 419.8L192.2 417.2L198.0 415.7L199.5 414.0L200.2 409.6L203.8 407.0L211.1 407.0L215.5 409.6L218.4 414.0L221.3 417.2L222.7 419.1L219.8 420.8L211.1 421.6L200.9 422.0L192.2 423.5L186.4 425.6Z" fill="#1f8c9e" stroke="none"/>
<path d="M298.9 380.9L304.0 379.7L315.6 380.6L327.3 382.1L334.5 384.1L335.3 386.0L327.3 386.7L315.6 386.7L305.5 385.3L299.6 383.5ZM301.1 364.9L306.9 364.6L307.6 366.4L301.8 366.7ZM192.2 417.6L199.5 416.6L208.2 416.2L219.8 416.6L222.7 418.4L218.4 420.1L208.2 420.5L198.0 420.3L192.9 419.5ZM184.9 421.6L188.1 420.5L190.0 422.3L188.1 424.2L185.6 424.2Z" fill="#0b5487" stroke="none"/>
<path d="M206.0 416.6L218.4 416.6L220.5 418.4L217.6 420.1L207.5 420.1L205.3 418.4Z" fill="#1c6b1f" stroke="none"/>
<g clip-path="url(#bl)" opacity="0.22"><path d="M183.0 333.7L188.8 334.3L192.3 337.2L192.8 340.1L193.4 341.8M193.4 341.8L196.9 340.1L202.7 340.1L205.0 337.2L207.4 334.8L210.8 334.3L215.5 336.0L221.3 339.5L225.9 340.7L230.6 339.5L236.4 340.1L242.2 340.1L246.9 341.2L250.3 343.6L256.1 344.1L263.1 344.7L267.8 345.3L273.6 344.1L279.4 342.4L286.0 342.5L293.5 346.2L303.5 352.5L311.0 353.8L318.5 350.0L326.0 346.2L336.0 345.0L346.0 341.2L358.5 340.0L368.5 338.8L375.3 340.5L379.6 336.1L382.5 330.3L385.5 328.1L394.2 325.9L401.5 324.5L404.4 321.5L408.7 319.4L411.6 317.9L421.8 318.6L429.1 317.2M193.4 341.8L191.1 344.7L186.5 347.6L183.0 349.9M404.4 321.5L407.3 324.5L414.5 327.4L419.2 330.0L425.0 336.7L431.7 343.3L435.8 351.7" fill="none" stroke="#6a6a6a" stroke-width="0.78" stroke-linejoin="round"/></g>
<path d="M255.88 64.0V615.8M421.31 64.0V615.8M586.74 64.0V615.8M752.16 64.0V615.8M917.59 64.0V615.8M1083.02 64.0V615.8M90.0 91.29H1248.0M90.0 174.06H1248.0M90.0 256.83H1248.0M90.0 339.60H1248.0M90.0 422.37H1248.0M90.0 505.14H1248.0M90.0 587.91H1248.0" fill="none" stroke="#808080" stroke-opacity="0.075" stroke-width="2.1"/>
<path d="M468.3 617.3L471.7 608.5L470.8 604.3L475.0 603.5L479.2 596.8L483.3 593.5L493.3 591.8L499.2 593.5L502.5 594.3L505.8 590.2L509.2 586.0L508.3 581.0L508.0 574.3L509.2 567.7L511.7 561.0L512.5 554.3L511.7 550.2L510.8 546.0L512.0 541.8L515.8 538.5L518.3 536.0L523.3 531.0L528.3 526.0L533.3 521.0L540.0 516.8L548.3 516.0L563.3 514.3L565.8 509.3L566.7 506.0M518.3 536.0L516.7 531.0L517.5 526.8L520.0 521.8L525.0 519.3L528.3 520.2L527.5 523.5L523.3 527.7L520.0 532.7L518.3 536.0M530.0 521.8L527.5 518.5L525.8 515.2L524.2 511.8L525.0 508.5L528.3 506.8L530.8 506.0M535.0 506.0L534.2 509.3L535.8 512.7L538.3 513.5L539.2 516.3M520.8 534.3L526.7 527.7L532.5 522.7M566.7 506.7L568.3 500.0L567.5 495.3L569.5 493.3L572.5 490.8L573.3 485.0L572.5 480.8L569.2 478.3L565.8 477.5L566.7 480.0L570.0 481.7L572.0 483.3M566.2 477.2L564.2 475.8L563.7 471.7L565.0 465.8L566.3 460.0L568.3 460.8L569.7 466.7L570.8 470.8L571.7 473.7L566.7 475.8M571.8 473.2L578.2 468.8L587.3 463.9L596.4 458.6L600.9 455.0L607.3 449.7L613.6 445.5L615.5 442.3L619.1 438.6L622.7 435.0L624.5 431.5L622.0 431.2L624.7 430.6L627.5 429.4L629.5 426.4L630.5 424.5L628.9 423.2L627.7 421.8L630.0 419.1L635.5 418.0L641.8 416.4L647.3 415.5L650.9 415.0L658.3 415.8L665.0 414.2L667.5 412.5L670.0 410.0L675.0 405.0M574.5 468.2L578.2 465.9L581.4 460.9L584.5 459.5L588.2 459.5L591.4 457.5L593.2 455.9L594.5 456.6L593.2 459.1L590.0 461.8M581.8 460.5L586.4 464.1M578.2 465.9L582.7 466.6M526.7 505.0L531.7 504.2L536.7 505.3M665.4 406.1L667.5 408.8L669.2 412.1L670.3 415.1M669.2 415.4L672.5 414.8L676.8 413.7L682.3 414.8L687.7 415.9L691.0 414.8L692.6 412.1L691.5 408.8L689.9 407.2L690.5 405.0L693.2 403.9L693.7 407.7L695.9 412.1L699.7 415.4L704.1 417.5L709.5 416.5L713.9 418.1L718.3 418.6L722.6 417.0L728.1 415.4L732.7 413.8M732.7 414.1L727.0 417.0L721.5 419.2L719.9 421.9L716.1 423.5L709.5 422.5L703.0 421.4L696.5 420.6L687.7 419.7L680.1 419.2L673.5 418.6L669.7 417.0M669.7 417.5L672.5 420.3L676.8 423.0L678.8 426.1L679.0 424.1L677.4 422.1L683.4 421.9L691.0 423.0L697.5 424.6L700.3 427.4L697.5 429.5L692.1 430.6L686.6 431.2L683.9 432.8L685.5 434.5L688.8 433.9L691.0 432.3L696.5 434.5L703.0 437.2L709.5 438.8L711.7 441.5L716.1 443.2L722.6 444.8L729.2 444.3L736.8 443.2L744.5 443.2L751.0 442.1L754.3 441.0L758.6 441.5L761.9 439.9L764.6 437.7L765.2 440.5L767.4 443.2L770.6 444.3L775.0 445.9L779.4 446.9M780.4 446.5L780.4 444.8L782.6 442.1L785.9 441.5L787.5 443.2L787.0 446.5M715.0 444.2L723.3 445.3L731.7 443.7L740.0 442.5L748.3 441.7L755.0 441.3L760.0 441.7L762.5 439.2L764.2 438.0L765.0 441.7L768.3 443.3L773.3 445.0L779.2 446.7L781.7 443.3L785.0 441.7L787.0 445.0L786.7 450.0L788.3 452.5L794.7 454.2L790.0 455.8L786.7 457.5L781.7 456.7L776.7 458.3L770.0 460.8L763.3 463.0L760.8 462.5L756.7 465.0L748.3 468.0L741.7 471.7L740.0 474.2L733.3 476.3L726.7 479.2L723.7 482.5L725.0 485.8L731.7 486.7L736.7 485.3L743.3 485.8L750.0 488.3M750.0 488.4L754.4 490.0L759.8 493.3L766.4 496.5L771.8 494.9L777.3 496.0L782.7 499.3L784.9 504.2L786.0 509.6L784.9 512.9L782.2 514.0L780.5 516.7L781.6 520.0L781.6 523.8L780.0 526.0L783.8 525.8L779.5 527.1L772.4 528.2L773.5 529.8L777.3 532.0L781.6 533.4L784.9 533.4L787.6 536.4L791.5 538.0L798.0 538.0L803.5 539.1L808.9 537.5L814.4 535.8L817.6 533.1L820.9 531.5L822.5 529.8L825.3 530.4L828.0 526.0L831.3 521.6L835.1 518.9L840.5 517.8L846.0 516.0L851.5 515.3L855.8 515.1L859.6 514.0L862.4 514.9L864.5 516.7L866.7 516.2L868.4 513.5L871.1 510.2L875.4 508.0L878.7 506.9L882.0 507.5L882.9 505.3L885.8 504.7L883.6 502.5L886.4 499.8L891.8 498.2L896.2 498.7L900.0 499.8M900.0 499.7L905.0 502.5L909.2 505.3L915.0 504.7L923.3 503.3L931.7 502.0L936.7 501.8M944.7 480.8L938.3 479.7L931.7 479.2L925.0 480.0L918.3 483.3L914.2 484.2L909.2 482.5L908.3 479.2L906.7 480.8L904.2 484.2L898.3 486.7L890.0 488.3L883.3 486.7L878.3 482.5L873.3 476.7L868.3 470.8L863.3 465.0L858.3 458.3L855.0 452.5L853.0 446.7L852.0 441.7L853.0 438.3L856.7 436.3L861.7 435.8L867.5 433.3L871.7 430.0L874.2 426.7L875.0 425.0M873.3 439.7L877.5 434.7L880.8 431.3L884.2 428.7L889.2 426.0L891.7 425.0M941.7 480.8L948.3 481.7L951.7 484.2L950.8 486.7L946.7 487.5L943.3 489.2L941.7 493.3L942.5 498.3L940.0 501.7L935.8 502.7M953.3 486.7L957.5 483.0L962.5 480.8L966.7 481.7L973.3 484.2L980.0 486.3L986.7 487.5L993.3 486.7L1000.0 485.0L1004.2 486.7L1006.7 485.8L1010.0 488.3L1013.3 487.5L1014.2 483.3L1012.5 479.2L1011.7 473.3L1010.0 469.2L1015.0 465.8L1019.7 462.0M1010.0 469.2L1006.7 468.3L1005.0 470.0L1005.3 481.7L1008.3 482.5L1009.2 476.7L1008.0 472.5M956.7 483.7L960.0 485.3L963.3 487.8L970.3 488.3L966.7 490.0L960.0 491.7L953.3 493.3L950.0 495.0L951.7 497.5L956.7 499.2L963.3 500.8L970.0 503.3L978.3 505.8L985.0 508.3L990.0 511.7L991.7 516.7L995.0 520.0L1000.0 522.5L1006.7 523.3L1013.3 524.2L1016.7 523.3L1015.8 520.0L1020.0 522.5L1023.3 526.7L1028.3 530.0L1031.7 533.3L1036.7 537.5L1043.3 539.2L1050.0 540.0L1056.7 540.8L1063.3 543.3L1070.0 546.7L1075.0 549.8M1075.0 550.5L1081.2 552.0L1085.7 556.6L1093.4 561.9L1101.0 566.5L1107.0 571.8L1113.2 576.4L1117.7 580.2L1120.8 581.7L1123.0 584.8L1130.0 587.8L1133.0 591.6L1135.3 593.9L1140.6 594.7L1148.2 597.7L1152.0 600.8L1153.6 604.6L1156.2 607.7L1158.0 606.0L1163.5 608.4L1169.6 611.0L1174.0 610.2L1180.0 610.7L1184.8 612.2L1189.0 617.0M877.0 482.0L875.0 479.8L868.3 473.3L861.7 465.0L856.7 456.7L853.3 448.3L851.7 441.7L853.0 437.5L856.7 435.8L861.7 435.8L866.7 434.2L871.7 430.8L875.0 427.5L874.2 424.2L871.7 422.0L873.3 423.3L877.5 425.8L877.0 430.0L880.0 431.7L885.0 427.5L891.7 423.3L898.3 420.0L904.2 416.7L911.7 414.2L920.0 413.0L926.7 412.5L930.0 415.0L931.7 416.3L934.2 413.7L938.3 410.8L945.0 408.7L953.3 407.0L958.3 408.0L961.7 410.8L959.2 414.7L960.8 413.0L963.3 407.5L966.7 405.0L973.3 402.5L980.0 400.0L986.7 398.3L990.0 400.8L992.5 398.3L996.7 394.2L1002.5 390.3L1008.3 389.7L1015.0 390.8L1021.7 389.7L1028.3 390.0L1033.3 392.5L1035.0 390.8L1040.0 388.7L1048.3 386.7L1053.3 385.0L1056.7 382.5L1063.3 380.8L1069.7 380.3M877.0 430.0L875.0 434.2L870.8 440.0L866.7 443.3M1069.7 386.3L1063.3 387.5L1056.7 388.0L1053.7 385.8L1056.7 383.0M1069.7 400.8L1061.7 402.5L1053.3 404.2L1049.2 406.7L1047.5 410.0L1050.0 413.0L1056.7 413.7L1060.8 411.7L1058.3 409.2L1051.7 408.7L1048.3 409.3M1047.5 410.0L1042.5 409.2L1036.7 411.7L1028.3 414.2L1021.7 415.8L1015.0 414.2L1012.5 413.0L1014.2 417.5L1017.5 421.7L1021.7 425.8L1025.8 429.2L1028.3 427.5L1034.2 430.8L1040.0 435.8L1046.7 440.0L1055.0 443.3L1058.3 445.8L1056.7 448.0L1050.0 446.7L1045.0 443.3L1040.0 442.0L1035.8 444.2L1033.3 450.0L1031.7 455.0L1029.2 459.2M1031.7 449.2L1030.0 447.0L1025.8 448.3L1023.3 451.7L1022.5 456.7L1020.0 460.8M1069.7 380.3L1072.7 379.1M1036.4 390.0L1045.5 388.2L1052.7 386.4L1056.4 383.6L1061.8 380.9L1072.7 379.1M1054.5 385.5L1058.2 388.2L1069.0 385.5L1078.2 384.5L1080.0 380.9L1087.3 379.1L1094.5 380.0L1098.2 382.7L1098.2 388.2L1104.5 389.1L1099.0 390.0L1099.0 393.6L1094.5 395.1L1089.0 393.6L1083.6 396.4L1076.4 398.2L1069.0 400.9" fill="none" stroke="#000" stroke-width="2.05" stroke-linejoin="round" stroke-linecap="round"/>
<path d="M682.3 381.5L685.5 384.8L688.3 388.6L689.9 392.5L693.2 395.2L695.9 398.5L695.9 401.7L693.2 403.9M669.7 429.5L671.4 432.8L674.6 435.0L682.3 436.6L691.0 438.3L698.6 439.9L705.2 441.2M730.8 446.3L738.3 446.7L748.3 448.0L755.0 448.7M861.7 445.8L865.0 443.3L870.0 441.7L873.3 439.7M955.8 485.0L959.2 483.7L962.5 486.3M975.8 490.3L983.3 489.3L990.0 488.7M1003.3 488.7L1005.8 488.3M861.2 445.3L866.7 443.3L871.7 440.8M1027.5 460.0L1029.7 456.7" fill="none" stroke="#000" stroke-width="3.0" stroke-linejoin="round" stroke-linecap="round"/>
</g>
<rect x="90.0" y="64.0" width="1158.0" height="551.8" fill="none" stroke="#000" stroke-width="1.7"/>
<g ><text transform="matrix(0.935 0 0 1 90.59 30.0)">N</text><text transform="matrix(0.845 0 0 1 104.79 30.0)">S</text><text transform="matrix(0.818 0 0 1 116.71 30.0)">F</text><text transform="matrix(0.935 0 0 1 133.27 30.0)">N</text><text transform="matrix(0.877 0 0 1 147.16 30.0)">C</text><text transform="matrix(0.951 0 0 1 160.19 30.0)">A</text><text transform="matrix(0.904 0 0 1 173.26 30.0)">R</text><text transform="matrix(0.944 0 0 1 192.66 30.0)">3</text><text transform="matrix(0.991 0 0 1 204.03 30.0)">.</text><text transform="matrix(0.975 0 0 1 210.33 30.0)">7</text><text transform="matrix(0.944 0 0 1 222.38 30.0)">5</text><text transform="matrix(1.021 0 0 1 233.68 30.0)">-</text><text transform="matrix(1.052 0 0 1 240.75 30.0)">k</text><text transform="matrix(1.071 0 0 1 251.59 30.0)">m</text><text transform="matrix(0.944 0 0 1 275.79 30.0)">M</text><text transform="matrix(0.838 0 0 1 292.13 30.0)">P</text><text transform="matrix(0.951 0 0 1 303.09 30.0)">A</text><text transform="matrix(0.845 0 0 1 315.08 30.0)">S</text><text transform="matrix(1.021 0 0 1 326.55 30.0)">-</text><text transform="matrix(0.951 0 0 1 333.38 30.0)">A</text></g>
<g ><text transform="matrix(0.964 0 0 1 90.65 51.7)">2</text><text transform="matrix(0.981 0 0 1 102.78 51.7)">4</text><text transform="matrix(1.021 0 0 1 114.18 51.7)">-</text><text transform="matrix(1.021 0 0 1 121.19 51.7)">h</text><text transform="matrix(1.184 0 0 1 132.97 51.7)">r</text><text transform="matrix(0.951 0 0 1 146.57 51.7)">A</text><text transform="matrix(0.944 0 0 1 159.59 51.7)">c</text><text transform="matrix(0.944 0 0 1 169.57 51.7)">c</text><text transform="matrix(1.021 0 0 1 179.87 51.7)">u</text><text transform="matrix(1.071 0 0 1 191.78 51.7)">m</text><text transform="matrix(1.021 0 0 1 210.02 51.7)">u</text><text transform="matrix(0.944 0 0 1 222.19 51.7)">l</text><text transform="matrix(0.852 0 0 1 227.29 51.7)">a</text><text transform="matrix(1.277 0 0 1 238.42 51.7)">t</text><text transform="matrix(1.013 0 0 1 245.91 51.7)">e</text><text transform="matrix(1.016 0 0 1 257.44 51.7)">d</text><text transform="matrix(0.838 0 0 1 275.53 51.7)">P</text><text transform="matrix(1.184 0 0 1 286.54 51.7)">r</text><text transform="matrix(1.013 0 0 1 293.99 51.7)">e</text><text transform="matrix(0.944 0 0 1 305.17 51.7)">c</text><text transform="matrix(0.944 0 0 1 315.76 51.7)">i</text><text transform="matrix(1.028 0 0 1 320.77 51.7)">p</text><text transform="matrix(0.944 0 0 1 332.87 51.7)">i</text><text transform="matrix(1.277 0 0 1 337.61 51.7)">t</text><text transform="matrix(0.852 0 0 1 345.32 51.7)">a</text><text transform="matrix(1.277 0 0 1 356.45 51.7)">t</text><text transform="matrix(0.944 0 0 1 364.28 51.7)">i</text><text transform="matrix(1.003 0 0 1 369.16 51.7)">o</text><text transform="matrix(1.009 0 0 1 380.78 51.7)">n</text><text transform="matrix(0.801 0 0 1 398.88 51.7)">(</text><text transform="matrix(1.071 0 0 1 405.86 51.7)">m</text><text transform="matrix(1.071 0 0 1 424.12 51.7)">m</text><text transform="matrix(0.801 0 0 1 443.50 51.7)">)</text></g>
<g ><text transform="matrix(1.037 0 0 1 995.69 30.0)">I</text><text transform="matrix(1.003 0 0 1 1001.65 30.0)">n</text><text transform="matrix(0.938 0 0 1 1013.64 30.0)">i</text><text transform="matrix(1.269 0 0 1 1018.35 30.0)">t</text><text transform="matrix(0.985 0 0 1 1025.95 30.0)">:</text><text transform="matrix(0.959 0 0 1 1038.13 30.0)">2</text><text transform="matrix(0.987 0 0 1 1050.06 30.0)">0</text><text transform="matrix(0.959 0 0 1 1061.84 30.0)">2</text><text transform="matrix(0.938 0 0 1 1074.00 30.0)">5</text><text transform="matrix(1.015 0 0 1 1085.23 30.0)">-</text><text transform="matrix(0.987 0 0 1 1092.36 30.0)">0</text><text transform="matrix(1.019 0 0 1 1104.00 30.0)">9</text><text transform="matrix(1.015 0 0 1 1115.67 30.0)">-</text><text transform="matrix(0.959 0 0 1 1122.73 30.0)">2</text><text transform="matrix(0.975 0 0 1 1134.78 30.0)">4</text><text transform="matrix(0.987 0 0 1 1152.44 30.0)">0</text><text transform="matrix(0.987 0 0 1 1164.30 30.0)">0</text><text transform="matrix(0.985 0 0 1 1176.11 30.0)">:</text><text transform="matrix(0.987 0 0 1 1182.44 30.0)">0</text><text transform="matrix(0.987 0 0 1 1194.30 30.0)">0</text><text transform="matrix(0.922 0 0 1 1211.86 30.0)">U</text><text transform="matrix(1.020 0 0 1 1224.79 30.0)">T</text><text transform="matrix(0.872 0 0 1 1236.84 30.0)">C</text></g>
<g ><text transform="matrix(0.954 0 0 1 980.12 51.7)">V</text><text transform="matrix(0.849 0 0 1 993.34 51.7)">a</text><text transform="matrix(0.940 0 0 1 1003.45 51.7)">l</text><text transform="matrix(0.940 0 0 1 1008.64 51.7)">i</text><text transform="matrix(1.012 0 0 1 1013.49 51.7)">d</text><text transform="matrix(0.987 0 0 1 1025.50 51.7)">:</text><text transform="matrix(0.961 0 0 1 1037.70 51.7)">2</text><text transform="matrix(0.989 0 0 1 1049.66 51.7)">0</text><text transform="matrix(0.961 0 0 1 1061.47 51.7)">2</text><text transform="matrix(0.940 0 0 1 1073.65 51.7)">5</text><text transform="matrix(1.017 0 0 1 1084.90 51.7)">-</text><text transform="matrix(0.989 0 0 1 1092.04 51.7)">0</text><text transform="matrix(1.021 0 0 1 1103.71 51.7)">9</text><text transform="matrix(1.017 0 0 1 1115.40 51.7)">-</text><text transform="matrix(0.961 0 0 1 1122.47 51.7)">2</text><text transform="matrix(0.940 0 0 1 1134.65 51.7)">5</text><text transform="matrix(0.940 0 0 1 1152.47 51.7)">1</text><text transform="matrix(1.021 0 0 1 1163.91 51.7)">9</text><text transform="matrix(0.987 0 0 1 1175.97 51.7)">:</text><text transform="matrix(0.989 0 0 1 1182.30 51.7)">0</text><text transform="matrix(0.989 0 0 1 1194.19 51.7)">0</text><text transform="matrix(0.923 0 0 1 1211.79 51.7)">U</text><text transform="matrix(1.022 0 0 1 1224.75 51.7)">T</text><text transform="matrix(0.873 0 0 1 1236.81 51.7)">C</text></g>
<g ><text transform="matrix(0.920 0 0 1 15.52 97.4)">5</text><text transform="matrix(0.940 0 0 1 26.86 97.4)">2</text><text transform="matrix(0.966 0 0 1 38.33 97.4)">.</text><text transform="matrix(0.920 0 0 1 44.59 97.4)">5</text><text transform="matrix(1.019 0 0 1 56.11 97.4)">°</text><text transform="matrix(0.912 0 0 1 65.01 97.4)">N</text></g>
<g ><text transform="matrix(0.920 0 0 1 32.96 180.2)">5</text><text transform="matrix(0.920 0 0 1 44.59 180.2)">1</text><text transform="matrix(1.019 0 0 1 56.11 180.2)">°</text><text transform="matrix(0.912 0 0 1 65.01 180.2)">N</text></g>
<g ><text transform="matrix(0.956 0 0 1 15.41 262.9)">4</text><text transform="matrix(0.999 0 0 1 26.71 262.9)">9</text><text transform="matrix(0.966 0 0 1 38.33 262.9)">.</text><text transform="matrix(0.920 0 0 1 44.59 262.9)">5</text><text transform="matrix(1.019 0 0 1 56.11 262.9)">°</text><text transform="matrix(0.912 0 0 1 65.01 262.9)">N</text></g>
<g ><text transform="matrix(0.956 0 0 1 32.86 345.7)">4</text><text transform="matrix(0.978 0 0 1 44.36 345.7)">8</text><text transform="matrix(1.019 0 0 1 56.11 345.7)">°</text><text transform="matrix(0.912 0 0 1 65.01 345.7)">N</text></g>
<g ><text transform="matrix(0.956 0 0 1 15.41 428.5)">4</text><text transform="matrix(0.999 0 0 1 26.80 428.5)">6</text><text transform="matrix(0.966 0 0 1 38.33 428.5)">.</text><text transform="matrix(0.920 0 0 1 44.59 428.5)">5</text><text transform="matrix(1.019 0 0 1 56.11 428.5)">°</text><text transform="matrix(0.912 0 0 1 65.01 428.5)">N</text></g>
<g ><text transform="matrix(0.956 0 0 1 32.86 511.2)">4</text><text transform="matrix(0.920 0 0 1 44.59 511.2)">5</text><text transform="matrix(1.019 0 0 1 56.11 511.2)">°</text><text transform="matrix(0.912 0 0 1 65.01 511.2)">N</text></g>
<g ><text transform="matrix(0.956 0 0 1 15.41 594.0)">4</text><text transform="matrix(0.920 0 0 1 27.24 594.0)">3</text><text transform="matrix(0.966 0 0 1 38.33 594.0)">.</text><text transform="matrix(0.920 0 0 1 44.59 594.0)">5</text><text transform="matrix(1.019 0 0 1 56.11 594.0)">°</text><text transform="matrix(0.912 0 0 1 65.01 594.0)">N</text></g>
<g ><text transform="matrix(0.942 0 0 1 234.35 640.6)">2</text><text transform="matrix(0.958 0 0 1 246.20 640.6)">4</text><text transform="matrix(1.021 0 0 1 257.84 640.6)">°</text><text transform="matrix(0.804 0 0 1 266.94 640.6)">E</text></g>
<g ><text transform="matrix(0.942 0 0 1 399.78 640.6)">2</text><text transform="matrix(0.952 0 0 1 411.61 640.6)">7</text><text transform="matrix(1.021 0 0 1 423.27 640.6)">°</text><text transform="matrix(0.804 0 0 1 432.37 640.6)">E</text></g>
<g ><text transform="matrix(0.922 0 0 1 565.60 640.6)">3</text><text transform="matrix(0.970 0 0 1 576.94 640.6)">0</text><text transform="matrix(1.021 0 0 1 588.70 640.6)">°</text><text transform="matrix(0.804 0 0 1 597.80 640.6)">E</text></g>
<g ><text transform="matrix(0.922 0 0 1 731.02 640.6)">3</text><text transform="matrix(0.922 0 0 1 742.68 640.6)">3</text><text transform="matrix(1.021 0 0 1 754.13 640.6)">°</text><text transform="matrix(0.804 0 0 1 763.22 640.6)">E</text></g>
<g ><text transform="matrix(0.922 0 0 1 896.45 640.6)">3</text><text transform="matrix(1.001 0 0 1 907.66 640.6)">6</text><text transform="matrix(1.021 0 0 1 919.55 640.6)">°</text><text transform="matrix(0.804 0 0 1 928.65 640.6)">E</text></g>
<g ><text transform="matrix(0.922 0 0 1 1061.88 640.6)">3</text><text transform="matrix(1.001 0 0 1 1073.01 640.6)">9</text><text transform="matrix(1.021 0 0 1 1084.98 640.6)">°</text><text transform="matrix(0.804 0 0 1 1094.08 640.6)">E</text></g>
<rect x="1276.2" y="514.6" width="10.0" height="35.4" fill="#e6e6e6"/>
<rect x="1276.2" y="479.6" width="10.0" height="35.4" fill="#33a7f5"/>
<rect x="1276.2" y="444.6" width="10.0" height="35.4" fill="#1f8c9e"/>
<rect x="1276.2" y="409.6" width="10.0" height="35.4" fill="#0b5487"/>
<rect x="1276.2" y="374.6" width="10.0" height="35.4" fill="#1c6b1f"/>
<rect x="1276.2" y="339.6" width="10.0" height="35.4" fill="#4fd966"/>
<rect x="1276.2" y="304.6" width="10.0" height="35.4" fill="#ffff1a"/>
<rect x="1276.2" y="269.6" width="10.0" height="35.4" fill="#e8902e"/>
<rect x="1276.2" y="234.6" width="10.0" height="35.4" fill="#ff0a0a"/>
<rect x="1276.2" y="199.6" width="10.0" height="35.4" fill="#990000"/>
<rect x="1276.2" y="164.7" width="10.0" height="35.3" fill="#800080"/>
<rect x="1276.2" y="129.7" width="10.0" height="35.4" fill="#ff4dff"/>
<path d="M1276.2 129.7L1281.2 108.8L1286.2 129.7Z" fill="#ffb8ff"/>
<path d="M1276.2 549.6L1281.2 570.5L1286.2 549.6Z" fill="#fff"/>
<path d="M1276.2 549.6L1281.2 570.5L1286.2 549.6V129.7L1281.2 108.8L1276.2 129.7Z" fill="none" stroke="#000" stroke-width="1.6" stroke-linejoin="miter"/>
<path d="M1286.2 549.6h7M1286.2 514.6h7M1286.2 479.6h7M1286.2 444.6h7M1286.2 409.6h7M1286.2 374.6h7M1286.2 339.6h7M1286.2 304.6h7M1286.2 269.6h7M1286.2 234.6h7M1286.2 199.6h7M1286.2 164.7h7M1286.2 129.7h7" stroke="#000" stroke-width="1.6" fill="none"/>
<g ><text transform="matrix(0.896 0 0 1 1301.22 557.6)">1</text></g>
<g ><text transform="matrix(0.896 0 0 1 1301.22 522.6)">5</text></g>
<g ><text transform="matrix(0.896 0 0 1 1301.22 487.6)">1</text><text transform="matrix(0.943 0 0 1 1312.34 487.6)">0</text></g>
<g ><text transform="matrix(0.896 0 0 1 1301.22 452.6)">1</text><text transform="matrix(0.896 0 0 1 1312.56 452.6)">5</text></g>
<g ><text transform="matrix(0.916 0 0 1 1300.94 417.6)">2</text><text transform="matrix(0.943 0 0 1 1312.34 417.6)">0</text></g>
<g ><text transform="matrix(0.896 0 0 1 1301.31 382.6)">3</text><text transform="matrix(0.943 0 0 1 1312.34 382.6)">0</text></g>
<g ><text transform="matrix(0.932 0 0 1 1301.12 347.6)">4</text><text transform="matrix(0.943 0 0 1 1312.34 347.6)">0</text></g>
<g ><text transform="matrix(0.896 0 0 1 1301.22 312.6)">5</text><text transform="matrix(0.943 0 0 1 1312.34 312.6)">0</text></g>
<g ><text transform="matrix(0.926 0 0 1 1301.11 277.6)">7</text><text transform="matrix(0.896 0 0 1 1312.56 277.6)">5</text></g>
<g ><text transform="matrix(0.896 0 0 1 1301.22 242.6)">1</text><text transform="matrix(0.943 0 0 1 1312.34 242.6)">0</text><text transform="matrix(0.943 0 0 1 1323.67 242.6)">0</text></g>
<g ><text transform="matrix(0.896 0 0 1 1301.22 207.6)">1</text><text transform="matrix(0.916 0 0 1 1312.27 207.6)">2</text><text transform="matrix(0.896 0 0 1 1323.89 207.6)">5</text></g>
<g ><text transform="matrix(0.896 0 0 1 1301.22 172.7)">1</text><text transform="matrix(0.896 0 0 1 1312.56 172.7)">5</text><text transform="matrix(0.943 0 0 1 1323.67 172.7)">0</text></g>
<g ><text transform="matrix(0.916 0 0 1 1300.94 137.7)">2</text><text transform="matrix(0.943 0 0 1 1312.34 137.7)">0</text><text transform="matrix(0.943 0 0 1 1323.67 137.7)">0</text></g>
<g transform="translate(1360.6 342.9) rotate(-90)"><text transform="matrix(0.991 0 0 1 -25.36 0.0)">[</text><text transform="matrix(1.071 0 0 1 -17.96 0.0)">m</text><text transform="matrix(1.071 0 0 1 0.30 0.0)">m</text><text transform="matrix(0.967 0 0 1 19.95 0.0)">]</text></g>
</svg></body></html>
